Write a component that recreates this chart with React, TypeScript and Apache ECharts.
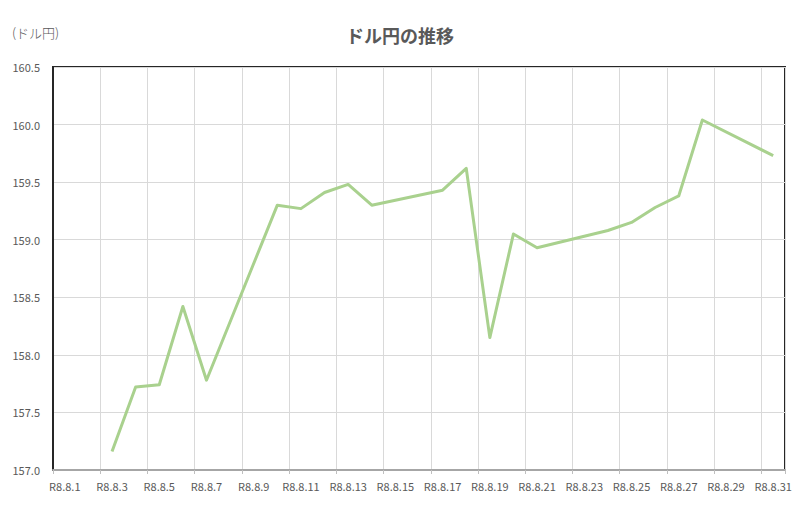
import { useEffect, useRef } from 'react';
import * as echarts from 'echarts';

// 日付（R8.8.1〜R8.8.31）
const categories = [
  'R8.8.1', 'R8.8.2', 'R8.8.3', 'R8.8.4', 'R8.8.5', 'R8.8.6', 'R8.8.7', 'R8.8.8',
  'R8.8.9', 'R8.8.10', 'R8.8.11', 'R8.8.12', 'R8.8.13', 'R8.8.14', 'R8.8.15', 'R8.8.16',
  'R8.8.17', 'R8.8.18', 'R8.8.19', 'R8.8.20', 'R8.8.21', 'R8.8.22', 'R8.8.23', 'R8.8.24',
  'R8.8.25', 'R8.8.26', 'R8.8.27', 'R8.8.28', 'R8.8.29', 'R8.8.30', 'R8.8.31'
];

// ドル円レート（土日は null）
const rates: (number | null)[] = [
  null, null, 157.16, 157.72, 157.74, 158.42, 157.78, null,
  null, 159.30, 159.27, 159.41, 159.48, 159.30, null, null,
  159.43, 159.62, 158.15, 159.05, 158.93, null, null, 159.08,
  159.15, 159.28, 159.38, 160.04, null, null, 159.73
];

const yTicks = { min: 157.0, max: 160.5, step: 0.5 };

const FONT = '"Noto Sans CJK JP", "Noto Sans", sans-serif';
const TEXT_COLOR = '#595959';

export default function App() {
  const chartRef = useRef<HTMLDivElement>(null);

  useEffect(() => {
    if (!chartRef.current) return;
    const chart = echarts.init(chartRef.current, undefined, { renderer: 'svg' });

    chart.setOption({
      animation: false,
      textStyle: { fontFamily: FONT },
      title: {
        text: 'ドル円の推移',
        left: 'center',
        top: 21,
        textStyle: { fontFamily: FONT, fontSize: 18, fontWeight: 'bold', color: TEXT_COLOR }
      },
      graphic: [
        {
          type: 'text',
          left: 12,
          top: 26,
          style: { text: '(ドル円)', fontFamily: FONT, fontSize: 13, fontWeight: 300, fill: TEXT_COLOR }
        }
      ],
      grid: {
        left: 53,
        right: 15,
        top: 67,
        bottom: 41,
        show: true,
        borderColor: '#262626',
        borderWidth: 2,
        containLabel: false
      },
      xAxis: {
        type: 'category',
        data: categories,
        boundaryGap: true,
        axisLine: { show: true, lineStyle: { color: '#a6a6a6', width: 2 } },
        axisTick: { show: true, interval: 1, length: 4, lineStyle: { color: '#bfbfbf' } },
        axisLabel: { interval: 1, color: TEXT_COLOR, fontSize: 11, margin: 10, fontFamily: FONT },
        splitLine: { show: true, interval: 1, lineStyle: { color: '#d9d9d9', width: 1 } }
      },
      yAxis: {
        type: 'value',
        min: yTicks.min,
        max: yTicks.max,
        interval: yTicks.step,
        axisLine: { show: true, lineStyle: { color: '#262626', width: 2 } },
        axisTick: { show: false },
        axisLabel: {
          color: TEXT_COLOR,
          fontSize: 11,
          margin: 13,
          fontFamily: FONT,
          formatter: (v: number) => v.toFixed(1)
        },
        splitLine: { show: true, lineStyle: { color: '#d9d9d9', width: 1 } }
      },
      series: [
        {
          type: 'line',
          data: rates,
          connectNulls: true,
          showSymbol: false,
          symbol: 'none',
          lineStyle: { color: '#a9d18e', width: 3, join: 'round' }
        }
      ]
    });

    const handleResize = () => chart.resize();
    window.addEventListener('resize', handleResize);
    return () => {
      window.removeEventListener('resize', handleResize);
      chart.dispose();
    };
  }, []);

  return (
    <div
      ref={chartRef}
      style={{
        position: 'fixed',
        left: 0,
        top: 0,
        width: '800px',
        height: '511px',
        background: '#ffffff'
      }}
    />
  );
}
